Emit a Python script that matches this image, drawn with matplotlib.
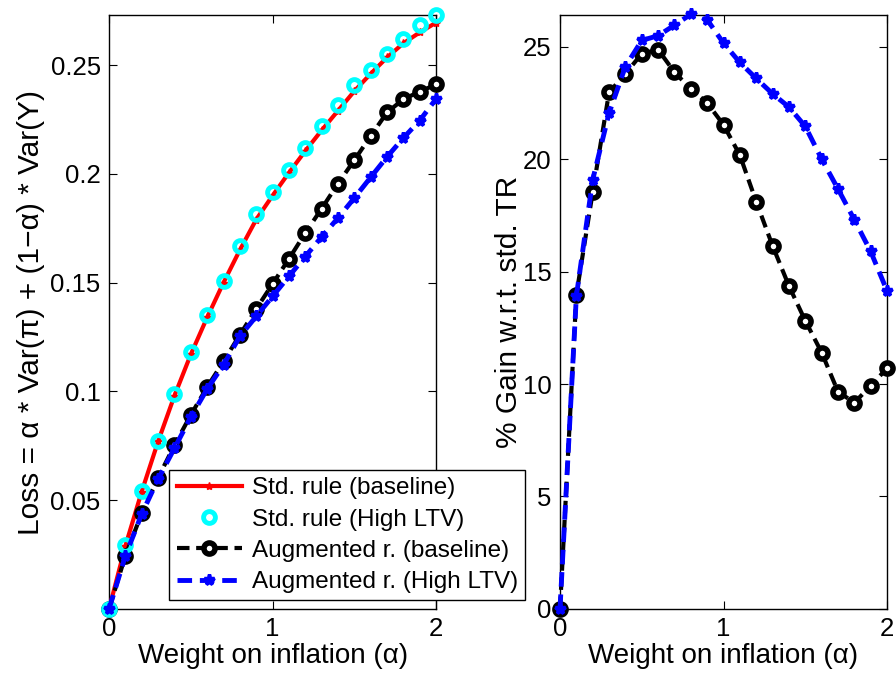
import matplotlib
matplotlib.use("Agg")
from matplotlib import pyplot as plt

plt.rcParams['font.family'] = ['Liberation Sans', 'DejaVu Sans']

alpha = [0.0, 0.1, 0.2, 0.3, 0.4, 0.5, 0.6, 0.7, 0.8, 0.9, 1.0,
         1.1, 1.2, 1.3, 1.4, 1.5, 1.6, 1.7, 1.8, 1.9, 2.0]

# loss, left panel
loss_std_base = [0.0, 0.029, 0.054, 0.077, 0.098, 0.117, 0.134, 0.150, 0.165, 0.179, 0.190,
                 0.2005, 0.2105, 0.220, 0.229, 0.238, 0.246, 0.2535, 0.260, 0.265, 0.2695]
loss_std_ltv = [0.0, 0.0293, 0.0543, 0.0773, 0.0988, 0.1179, 0.1351, 0.1509, 0.1670, 0.1816, 0.1918,
                0.2019, 0.2120, 0.2218, 0.2318, 0.2410, 0.2479, 0.2551, 0.2620, 0.2684, 0.2728]
loss_aug_base = [0.0, 0.0245, 0.0440, 0.0603, 0.0753, 0.0892, 0.1020, 0.1138, 0.1260, 0.1379, 0.1494,
                 0.1609, 0.1728, 0.1840, 0.1955, 0.2063, 0.2174, 0.2282, 0.2343, 0.2378, 0.2411]
loss_aug_ltv = [0.0, 0.0244, 0.0437, 0.0597, 0.0739, 0.0882, 0.1011, 0.1122, 0.1253, 0.1345, 0.1437,
                0.1529, 0.1620, 0.1710, 0.1797, 0.1889, 0.1984, 0.2078, 0.2165, 0.2245, 0.2345]

# % gain, right panel
gain_base = [0.0, 13.96, 18.53, 22.96, 23.79, 24.68, 24.86, 23.86, 23.11, 22.49, 21.52,
             20.17, 18.10, 16.14, 14.36, 12.81, 11.40, 9.66, 9.17, 9.92, 10.70]
gain_ltv = [0.0, 13.9, 19.08, 22.04, 24.11, 25.27, 25.48, 25.95, 26.43, 26.19, 25.15,
            24.29, 23.58, 22.90, 22.31, 21.45, 20.00, 18.67, 17.30, 15.89, 14.14]

labels = ['Std. rule (baseline)', 'Std. rule (High LTV)',
          'Augmented r. (baseline)', 'Augmented r. (High LTV)']

fig = plt.figure(figsize=(8.96, 6.73), dpi=100)
ax1 = fig.add_axes([0.1217, 0.0951, 0.365, 0.8826])
ax2 = fig.add_axes([0.625, 0.0951, 0.365, 0.8826])

dash = (3, 1.6)

ax1.plot(alpha, loss_std_base, color='red', lw=3, marker='*', ms=6, mew=1,
         label=labels[0], zorder=3)
ax1.plot(alpha, loss_std_ltv, ls='none', marker='o', ms=8.5, mfc='none', mec='cyan', mew=3.5,
         label=labels[1], zorder=4)
ax1.plot(alpha, loss_aug_base, color='black', lw=3, dashes=dash, marker='o', ms=8,
         mfc='white', mec='black', mew=4, label=labels[2], zorder=3)
ax1.plot(alpha, loss_aug_ltv, color='blue', lw=3.5, dashes=dash, marker='*', ms=8,
         mec='blue', mew=2.5, label=labels[3], zorder=5)

ax2.plot(alpha, gain_base, color='black', lw=3, dashes=dash, marker='o', ms=8,
         mfc='white', mec='black', mew=4, zorder=3)
ax2.plot(alpha, gain_ltv, color='blue', lw=3.5, dashes=dash, marker='*', ms=8,
         mec='blue', mew=2.5, zorder=4)

ax1.set_xlim(0, 2)
ax1.set_ylim(0, 0.273)
ax1.set_xticks([0, 1, 2])
ax1.set_yticks([0.05, 0.1, 0.15, 0.2, 0.25])
ax1.set_yticklabels(['0.05', '0.1', '0.15', '0.2', '0.25'])
ax1.set_xlabel('Weight on inflation (α)', fontsize=20, labelpad=1)
ax1.set_ylabel('Loss = α * Var(π) + (1−α) * Var(Y)', fontsize=21.5, labelpad=4)

ax2.set_xlim(0, 2)
ax2.set_ylim(0, 26.4)
ax2.set_xticks([0, 1, 2])
ax2.set_yticks([0, 5, 10, 15, 20, 25])
ax2.set_xlabel('Weight on inflation (α)', fontsize=20, labelpad=1)
ax2.set_ylabel('% Gain w.r.t. std. TR', fontsize=21.5, labelpad=0)

for ax in (ax1, ax2):
    ax.tick_params(direction='in', top=True, right=True, labelsize=18.5, length=6, width=0.8, pad=6)
    for s in ax.spines.values():
        s.set_linewidth(1.0)
    for ln in ax.get_lines():
        ln.set_clip_on(False)

leg = ax1.legend(loc='lower left', bbox_to_anchor=(0.189, 0.108), bbox_transform=fig.transFigure,
                 fontsize=17.5, frameon=True, fancybox=False, edgecolor='black', framealpha=1,
                 handlelength=2.7, borderpad=0.3, labelspacing=0.38, handletextpad=0.4,
                 borderaxespad=0)
leg.get_frame().set_linewidth(1.0)
leg.set_zorder(10)

fig.savefig('out.png', dpi=100)
